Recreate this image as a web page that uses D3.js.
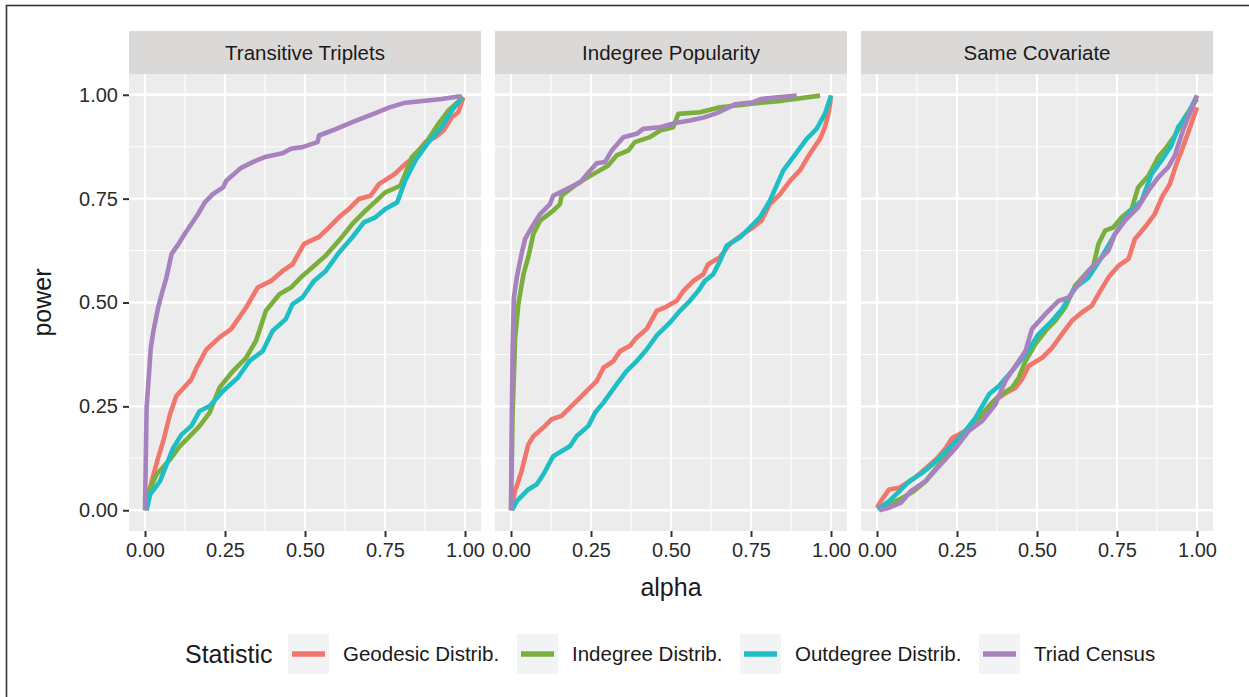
<!DOCTYPE html>
<html>
<head>
<meta charset="utf-8">
<script src="https://cdn.jsdelivr.net/npm/d3@7"></script>
<style>
  body { margin: 0; background: #fff; }
  svg { display: block; font-family: "Liberation Sans", Arial, sans-serif; }
</style>
</head>
<body>
<script>
// facets and legend
var panels = ["Transitive Triplets", "Indegree Popularity", "Same Covariate"];
var statistics = ["Geodesic Distrib.", "Indegree Distrib.", "Outdegree Distrib.", "Triad Census"];
var statColors = ["#f1766d", "#7aaf3e", "#1fbec5", "#a782be"];
var ticks = [0, 0.25, 0.5, 0.75, 1];
var tickLabels = ["0.00", "0.25", "0.50", "0.75", "1.00"];

// [alpha, power]
// Transitive Triplets
var ttGeodesic = [[0,0],[0.021,0.07],[0.041,0.126],[0.057,0.166],[0.078,0.231],[0.098,0.275],[0.145,0.315],[0.161,0.343],[0.192,0.387],[0.233,0.416],[0.269,0.436],[0.316,0.488],[0.352,0.536],[0.394,0.552],[0.43,0.576],[0.461,0.592],[0.497,0.641],[0.544,0.658],[0.575,0.681],[0.606,0.705],[0.637,0.725],[0.668,0.749],[0.705,0.757],[0.731,0.785],[0.782,0.81],[0.803,0.826],[0.834,0.846],[0.876,0.886],[0.907,0.898],[0.933,0.914],[0.959,0.946],[0.979,0.958],[0.995,0.994]];
var ttIndegree = [[0,0],[0.01,0.042],[0.036,0.086],[0.078,0.122],[0.109,0.154],[0.135,0.174],[0.171,0.203],[0.202,0.235],[0.233,0.295],[0.275,0.335],[0.316,0.367],[0.347,0.408],[0.378,0.48],[0.42,0.52],[0.456,0.536],[0.492,0.564],[0.534,0.592],[0.565,0.613],[0.606,0.649],[0.648,0.689],[0.689,0.721],[0.751,0.765],[0.798,0.781],[0.834,0.85],[0.876,0.882],[0.917,0.93],[0.948,0.962],[0.995,0.994]];
var ttOutdegree = [[0.005,0],[0.016,0.038],[0.047,0.07],[0.088,0.15],[0.114,0.182],[0.145,0.203],[0.171,0.239],[0.202,0.251],[0.244,0.287],[0.29,0.319],[0.326,0.359],[0.368,0.383],[0.399,0.432],[0.44,0.46],[0.461,0.496],[0.492,0.512],[0.528,0.552],[0.565,0.576],[0.606,0.62],[0.648,0.657],[0.684,0.693],[0.72,0.705],[0.751,0.725],[0.788,0.741],[0.813,0.793],[0.845,0.842],[0.886,0.886],[0.927,0.922],[0.959,0.962],[0.99,0.994]];
var ttTriad = [[0,0],[0.005,0.247],[0.018,0.39],[0.026,0.43],[0.041,0.488],[0.052,0.52],[0.067,0.56],[0.083,0.617],[0.104,0.64],[0.124,0.665],[0.145,0.689],[0.166,0.713],[0.187,0.741],[0.212,0.761],[0.244,0.777],[0.254,0.793],[0.3,0.824],[0.337,0.838],[0.378,0.851],[0.43,0.859],[0.456,0.87],[0.492,0.874],[0.539,0.886],[0.544,0.902],[0.585,0.914],[0.648,0.934],[0.72,0.956],[0.762,0.969],[0.808,0.98],[0.927,0.99],[0.979,0.996],[0.99,0.995]];
// Indegree Popularity
var ipGeodesic = [[0,0],[0.0125,0.046],[0.033,0.094],[0.054,0.158],[0.07,0.178],[0.101,0.199],[0.127,0.219],[0.158,0.227],[0.184,0.247],[0.216,0.271],[0.247,0.295],[0.268,0.311],[0.289,0.343],[0.32,0.359],[0.341,0.383],[0.372,0.396],[0.393,0.416],[0.424,0.436],[0.455,0.48],[0.481,0.488],[0.518,0.504],[0.539,0.528],[0.57,0.552],[0.601,0.568],[0.616,0.592],[0.653,0.609],[0.684,0.641],[0.726,0.665],[0.757,0.681],[0.783,0.697],[0.809,0.737],[0.841,0.761],[0.872,0.793],[0.903,0.818],[0.934,0.858],[0.966,0.894],[0.981,0.922],[0.992,0.954],[0.997,0.978],[1,0.998]];
var ipIndegree = [[0,0],[0.005,0.231],[0.013,0.416],[0.023,0.496],[0.039,0.568],[0.054,0.609],[0.07,0.665],[0.091,0.697],[0.132,0.721],[0.153,0.737],[0.158,0.757],[0.205,0.785],[0.257,0.809],[0.304,0.83],[0.33,0.854],[0.367,0.866],[0.387,0.886],[0.434,0.898],[0.466,0.914],[0.507,0.922],[0.523,0.954],[0.591,0.958],[0.653,0.97],[0.747,0.978],[0.851,0.986],[0.966,0.998]];
var ipOutdegree = [[0.003,0],[0.018,0.022],[0.054,0.05],[0.08,0.062],[0.101,0.086],[0.132,0.13],[0.184,0.154],[0.205,0.178],[0.242,0.203],[0.263,0.235],[0.289,0.259],[0.33,0.303],[0.361,0.335],[0.393,0.359],[0.424,0.387],[0.455,0.42],[0.497,0.452],[0.528,0.48],[0.559,0.504],[0.585,0.528],[0.606,0.552],[0.632,0.568],[0.653,0.6],[0.674,0.637],[0.716,0.657],[0.747,0.681],[0.778,0.705],[0.809,0.745],[0.851,0.818],[0.882,0.85],[0.924,0.894],[0.955,0.918],[0.981,0.954],[1,0.998]];
var ipTriad = [[0,0],[0.002,0.19],[0.005,0.391],[0.009,0.512],[0.018,0.56],[0.033,0.617],[0.044,0.653],[0.065,0.681],[0.091,0.713],[0.122,0.737],[0.132,0.757],[0.174,0.773],[0.216,0.789],[0.242,0.813],[0.268,0.835],[0.294,0.838],[0.315,0.866],[0.351,0.898],[0.393,0.906],[0.413,0.918],[0.466,0.922],[0.513,0.932],[0.559,0.938],[0.601,0.945],[0.643,0.956],[0.7,0.977],[0.757,0.982],[0.783,0.99],[0.893,0.998]];
// Same Covariate
var scGeodesic = [[0,0.006],[0.012,0.022],[0.038,0.05],[0.07,0.054],[0.111,0.074],[0.142,0.094],[0.189,0.126],[0.215,0.15],[0.235,0.174],[0.277,0.191],[0.319,0.223],[0.36,0.259],[0.396,0.279],[0.433,0.295],[0.453,0.315],[0.474,0.347],[0.516,0.367],[0.547,0.391],[0.578,0.424],[0.609,0.456],[0.64,0.476],[0.671,0.492],[0.692,0.52],[0.723,0.56],[0.754,0.588],[0.786,0.605],[0.806,0.653],[0.837,0.681],[0.868,0.713],[0.89,0.753],[0.915,0.785],[0.936,0.834],[0.956,0.874],[0.982,0.93],[1,0.97]];
var scIndegree = [[0.007,0.002],[0.038,0.014],[0.08,0.03],[0.116,0.046],[0.152,0.07],[0.194,0.11],[0.235,0.158],[0.277,0.191],[0.319,0.223],[0.35,0.251],[0.381,0.275],[0.422,0.295],[0.443,0.319],[0.464,0.359],[0.495,0.4],[0.527,0.432],[0.557,0.456],[0.588,0.488],[0.619,0.54],[0.651,0.568],[0.676,0.588],[0.692,0.641],[0.713,0.673],[0.739,0.681],[0.765,0.705],[0.796,0.725],[0.816,0.777],[0.848,0.805],[0.879,0.85],[0.905,0.874],[0.931,0.902],[0.962,0.946],[1,0.99]];
var scOutdegree = [[0.002,0.002],[0.038,0.022],[0.07,0.046],[0.101,0.07],[0.142,0.09],[0.173,0.11],[0.215,0.142],[0.267,0.182],[0.308,0.223],[0.35,0.279],[0.381,0.299],[0.422,0.335],[0.464,0.375],[0.505,0.424],[0.547,0.456],[0.578,0.484],[0.619,0.536],[0.661,0.56],[0.702,0.609],[0.744,0.665],[0.785,0.713],[0.827,0.745],[0.858,0.809],[0.889,0.842],[0.92,0.878],[0.941,0.922],[0.972,0.954],[1,0.998]];
var scTriad = [[0.007,0],[0.038,0.006],[0.075,0.018],[0.106,0.046],[0.152,0.07],[0.194,0.106],[0.246,0.15],[0.287,0.191],[0.329,0.215],[0.37,0.255],[0.401,0.311],[0.443,0.359],[0.464,0.383],[0.484,0.436],[0.526,0.472],[0.567,0.504],[0.599,0.512],[0.63,0.544],[0.661,0.576],[0.692,0.6],[0.723,0.625],[0.744,0.665],[0.775,0.697],[0.816,0.729],[0.848,0.769],[0.879,0.801],[0.91,0.826],[0.931,0.854],[0.956,0.914],[1,0.998]];

var panelSeries = [
  [ttGeodesic, ttIndegree, ttOutdegree, ttTriad],
  [ipGeodesic, ipIndegree, ipOutdegree, ipTriad],
  [scGeodesic, scIndegree, scOutdegree, scTriad]
];

var W = 1249, H = 697;
var panelLefts = [129, 495, 861];
var panelW = 352;
var panelTop = 74, panelBottom = 531;
var stripTop = 31;

var svg = d3.select("body").append("svg").attr("width", W).attr("height", H);

// outer frame (only top/left visible in the crop)
svg.append("rect").attr("x", 6.5).attr("y", 5.5).attr("width", W + 20).attr("height", H + 20)
  .attr("fill", "none").attr("stroke", "#333").attr("stroke-width", 1.6);

var y = d3.scaleLinear().domain([-0.05, 1.05]).range([panelBottom, panelTop]);
var minorTicks = [0.125, 0.375, 0.625, 0.875];

var line = d3.line()
  .x(function(d) { return d[0]; })
  .y(function(d) { return d[1]; });

for (var p = 0; p < panels.length; p++) {
  var left = panelLefts[p];
  var x = d3.scaleLinear().domain([-0.05, 1.05]).range([left, left + panelW]);
  var g = svg.append("g");

  // strip
  g.append("rect").attr("x", left).attr("y", stripTop).attr("width", panelW).attr("height", panelTop - stripTop)
    .attr("fill", "#dad9d8");
  g.append("text").attr("x", left + panelW / 2).attr("y", (stripTop + panelTop) / 2 + 7)
    .attr("text-anchor", "middle").attr("font-size", "20.5px").attr("fill", "#1a1a1a")
    .text(panels[p]);

  // panel background
  g.append("rect").attr("x", left).attr("y", panelTop).attr("width", panelW).attr("height", panelBottom - panelTop)
    .attr("fill", "#ebeceb");

  // grid
  minorTicks.forEach(function(t) {
    g.append("line").attr("x1", x(t)).attr("x2", x(t)).attr("y1", panelTop).attr("y2", panelBottom)
      .attr("stroke", "#fff").attr("stroke-width", 1.1);
    g.append("line").attr("x1", left).attr("x2", left + panelW).attr("y1", y(t)).attr("y2", y(t))
      .attr("stroke", "#fff").attr("stroke-width", 1.1);
  });
  ticks.forEach(function(t) {
    g.append("line").attr("x1", x(t)).attr("x2", x(t)).attr("y1", panelTop).attr("y2", panelBottom)
      .attr("stroke", "#fff").attr("stroke-width", 2.3);
    g.append("line").attr("x1", left).attr("x2", left + panelW).attr("y1", y(t)).attr("y2", y(t))
      .attr("stroke", "#fff").attr("stroke-width", 2.3);
  });

  // lines
  var series = panelSeries[p];
  for (var s = 0; s < series.length; s++) {
    var pts = series[s].map(function(d) { return [x(d[0]), y(d[1])]; });
    g.append("path").attr("d", line(pts)).attr("fill", "none")
      .attr("stroke", statColors[s]).attr("stroke-width", 4.6)
      .attr("stroke-linejoin", "round").attr("stroke-linecap", "butt");
  }

  // x axis
  var xAxis = d3.axisBottom(x).tickValues(ticks).tickSize(6).tickPadding(6)
    .tickFormat(function(d, i) { return tickLabels[i]; });
  var xa = g.append("g").attr("transform", "translate(0," + panelBottom + ")").call(xAxis);
  xa.select(".domain").remove();
  xa.selectAll("line").attr("stroke", "#333").attr("stroke-width", 2);
  xa.selectAll("text").attr("font-size", "20px").attr("fill", "#2b2b2b")
    .attr("font-family", "Liberation Sans, Arial, sans-serif");

  if (p === 0) {
    var yAxis = d3.axisLeft(y).tickValues(ticks).tickSize(6).tickPadding(5)
      .tickFormat(function(d, i) { return tickLabels[i]; });
    var ya = g.append("g").attr("transform", "translate(" + left + ",0)").call(yAxis);
    ya.select(".domain").remove();
    ya.selectAll("line").attr("stroke", "#333").attr("stroke-width", 2);
    ya.selectAll("text").attr("font-size", "20px").attr("fill", "#2b2b2b")
      .attr("font-family", "Liberation Sans, Arial, sans-serif");
  }
}

// axis titles
svg.append("text").attr("x", (panelLefts[0] + panelLefts[2] + panelW) / 2).attr("y", 596)
  .attr("text-anchor", "middle").attr("font-size", "25px").attr("fill", "#1a1a1a").text("alpha");
svg.append("text").attr("transform", "translate(51," + (panelTop + panelBottom) / 2 + ") rotate(-90)")
  .attr("text-anchor", "middle").attr("font-size", "25px").attr("fill", "#1a1a1a").text("power");

// legend
var legendY = 654;
svg.append("text").attr("x", 185).attr("y", legendY + 9).attr("font-size", "25px").attr("fill", "#1a1a1a")
  .text("Statistic");
var keyX = [288, 517, 740, 979];
for (var k = 0; k < statistics.length; k++) {
  var lg = svg.append("g").attr("transform", "translate(" + keyX[k] + "," + (legendY - 20) + ")");
  lg.append("rect").attr("width", 41).attr("height", 40).attr("fill", "#f2f3f4");
  lg.append("line").attr("x1", 4).attr("x2", 37).attr("y1", 20).attr("y2", 20)
    .attr("stroke", statColors[k]).attr("stroke-width", 5.5);
  lg.append("text").attr("x", 55).attr("y", 27).attr("font-size", "20.5px").attr("fill", "#1a1a1a")
    .text(statistics[k]);
}
</script>
</body>
</html>
